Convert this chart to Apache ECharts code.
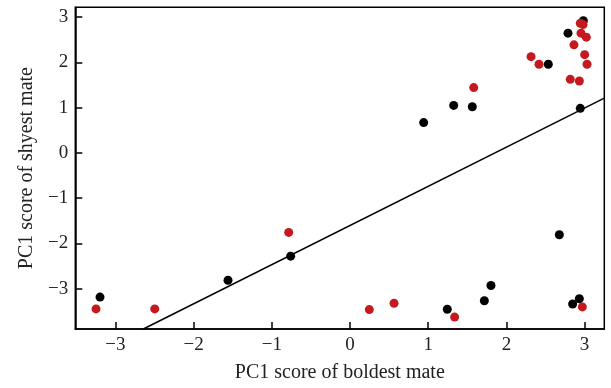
<!DOCTYPE html>
<html>
<head>
<meta charset="utf-8">
<script src="https://cdn.jsdelivr.net/npm/echarts@6/dist/echarts.min.js"></script>
<style>html,body{margin:0;padding:0;background:#fff;}#c{width:611px;height:388px;}</style>
</head>
<body>
<div id="c"></div>
<script>
// Data
const blackX = [2.984, 2.788, 2.536, 1.326, 1.564, 0.942, 2.945, -0.759, -1.56, -3.197, 1.244, 1.718, 1.803, 2.847, 2.933, 2.677];
const blackY = [2.923, 2.648, 1.961, 1.05, 1.02, 0.67, 0.985, -2.284, -2.816, -3.19, -3.457, -3.269, -2.932, -3.341, -3.225, -1.81];
const redX = [2.945, 2.98, 2.954, 3.022, 2.864, 3.001, 2.315, 2.417, 3.031, 2.817, 2.933, 1.582, -0.784, -3.248, -2.497, 0.247, 0.563, 1.338, 2.971];
const redY = [2.866, 2.84, 2.648, 2.56, 2.39, 2.173, 2.129, 1.961, 1.961, 1.626, 1.589, 1.444, -1.759, -3.45, -3.45, -3.466, -3.326, -3.632, -3.407];
const fitX = [-2.643, 3.252];
const fitY = [-3.895, 1.21];
const xTicks = [-3, -2, -1, 0, 1, 2, 3];
const yTicks = [-3, -2, -1, 0, 1, 2, 3];
const xName = 'PC1 score of boldest mate';
const yName = 'PC1 score of shyest mate';

const zip = (a, b) => a.map((v, i) => [v, b[i]]);
const fmt = v => (v < 0 ? '\u2212' + Math.abs(v) : String(v));
const font = '"Liberation Serif", "DejaVu Serif", serif';

const chart = echarts.init(document.getElementById('c'), null, {renderer: 'canvas'});
chart.setOption({
  animation: false,
  backgroundColor: '#fff',
  grid: {left: 75.3, right: 6.7, top: 7.3, bottom: 55.7, show: true, borderColor: '#000', borderWidth: 1.5, backgroundColor: 'transparent'},
  xAxis: {
    type: 'value', min: -3.513, max: 3.252,
    name: xName, nameLocation: 'middle', nameGap: 34,
    nameTextStyle: {fontFamily: font, fontSize: 20, color: '#222'},
    axisLine: {show: true, onZero: false, lineStyle: {color: '#000', width: 1.5}},
    axisTick: {show: true, inside: true, length: 7, customValues: xTicks, lineStyle: {color: '#000', width: 1.5}},
    axisLabel: {customValues: xTicks, formatter: fmt, margin: 7, fontFamily: font, fontSize: 19, color: '#222'},
    splitLine: {show: false}
  },
  yAxis: {
    type: 'value', min: -3.895, max: 3.22,
    name: yName, nameLocation: 'middle', nameGap: 39, nameRotate: 90,
    nameTextStyle: {fontFamily: font, fontSize: 20, color: '#222'},
    axisLine: {show: true, onZero: false, lineStyle: {color: '#000', width: 1.5}},
    axisTick: {show: true, inside: true, length: 7, customValues: yTicks, lineStyle: {color: '#000', width: 1.5}},
    axisLabel: {customValues: yTicks, formatter: fmt, margin: 7, fontFamily: font, fontSize: 19, color: '#222'},
    splitLine: {show: false}
  },
  series: [
    {type: 'line', data: zip(fitX, fitY), symbol: 'none', lineStyle: {color: '#000', width: 1.5}, silent: true, z: 1},
    {type: 'scatter', data: zip(blackX, blackY), symbolSize: 9, itemStyle: {color: '#000', opacity: 1}, z: 2},
    {type: 'scatter', data: zip(redX, redY), symbolSize: 9, itemStyle: {color: '#c41a1f', opacity: 1}, z: 3}
  ]
});
</script>
</body>
</html>
